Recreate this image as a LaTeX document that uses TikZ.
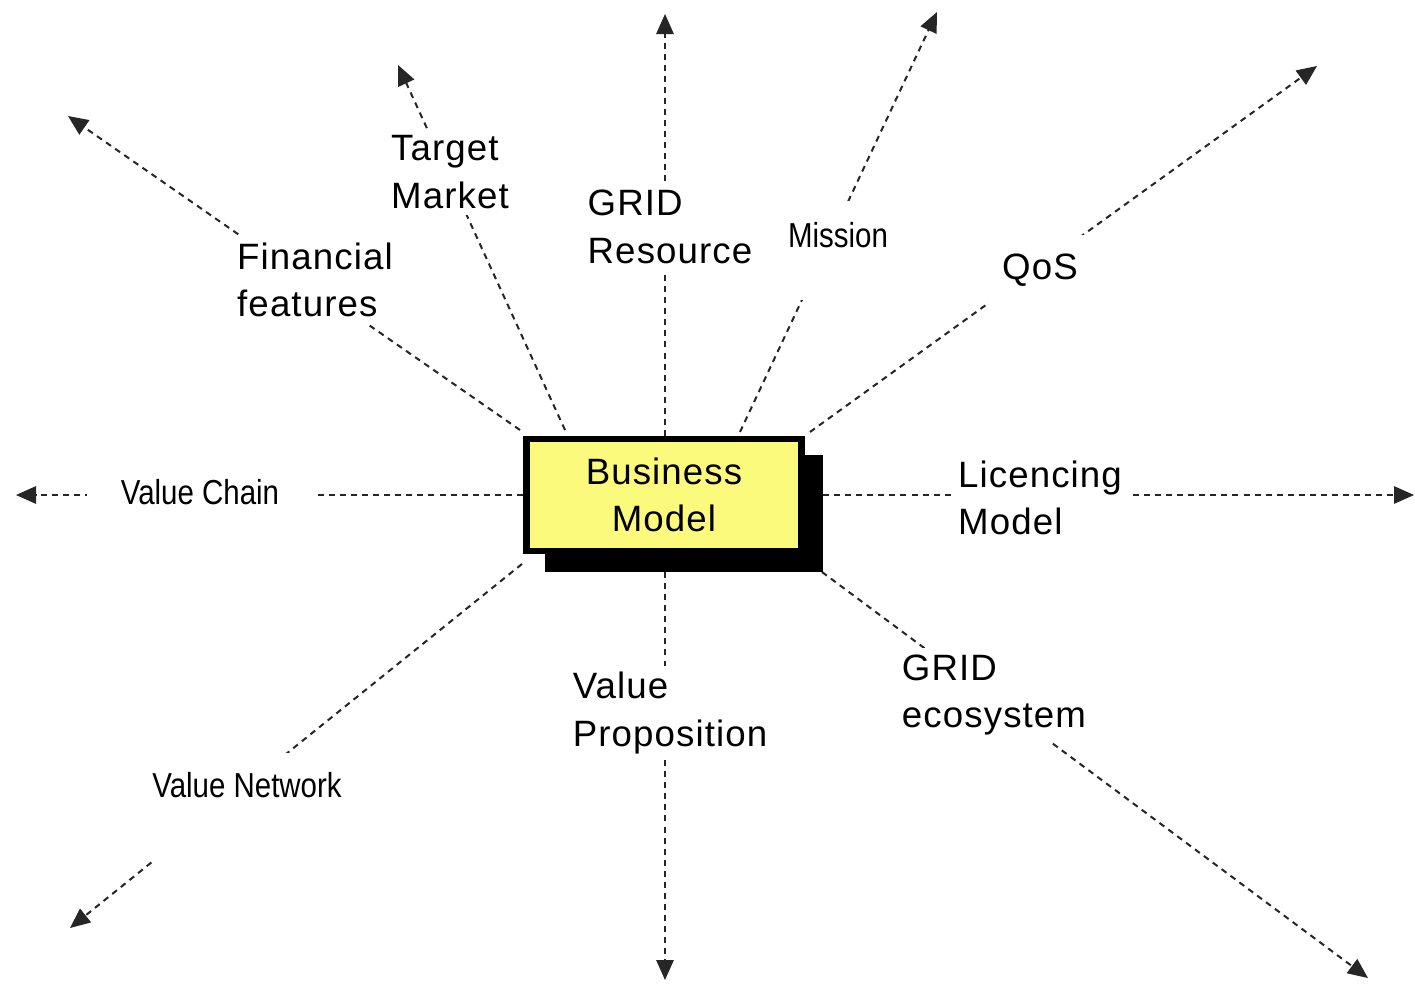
\documentclass[tikz,border=0pt]{standalone}
\usepackage{fontspec}
\setmainfont{Liberation Sans}[LetterSpace=3]
\newfontfamily\narrowfont{Liberation Sans}[FakeStretch=0.85]
\usetikzlibrary{arrows.meta}
\definecolor{boxyellow}{RGB}{252,250,125}
\begin{document}
\begin{tikzpicture}[x=0.75pt,y=-0.75pt,
  conn/.style={draw=black!85,line width=1.5pt,dash pattern=on 4.5pt off 3.8pt,
    -{Triangle[length=15pt,width=13pt]}},
  lab/.style={fill=white,inner sep=5pt,align=left,
    font=\fontsize{27.5pt}{35.5pt}\selectfont},
  nlab/.style={fill=white,inner sep=5pt,
    font=\narrowfont\fontsize{26pt}{32pt}\selectfont}]
\useasboundingbox (0,0) rectangle (1415,985);
\fill[white] (0,0) rectangle (1415,985);

% start points on the box
\coordinate (sL) at (523,495);
\coordinate (sR) at (823,495);
\coordinate (sU) at (665,436);
\coordinate (sD) at (665,572);
\coordinate (sFin) at (520,430);
\coordinate (sTar) at (565,430);
\coordinate (sMis) at (740,432);
\coordinate (sQoS) at (810,432);
\coordinate (sEco) at (822,572);
\coordinate (sVN) at (522,564);
% arrow ends
\coordinate (eL) at (16,495);
\coordinate (eR) at (1414,495);
\coordinate (eU) at (665,14);
\coordinate (eD) at (665,980);
\coordinate (eFin) at (68,116);
\coordinate (eTar) at (398,65);
\coordinate (eMis) at (937,12);
\coordinate (eQoS) at (1317,66);
\coordinate (eEco) at (1368,978);
\coordinate (eVN) at (70,928);

\foreach \n in {L,R,U,D,Fin,Tar,Mis,QoS,Eco,VN}
  \draw[conn] (s\n) -- (e\n);

% labels
\node[lab] (tar) at (450,172) {Target\\Market};
\node[lab] (res) at (670,227) {GRID\\Resource};
\node[lab] (fin) at (315,280) {Financial\\features};
\node[lab] (lic) at (1040,498) {Licencing\\Model};
\node[lab] (eco) at (994,695) {GRID\\ecosystem};
\node[lab] (vp)  at (670,713) {Value\\Proposition};
\node[lab,inner xsep=10pt,inner ysep=14pt] (qos) at (1040,270) {QoS};
\node[nlab,anchor=base,inner xsep=8pt,inner ysep=16pt,text depth=24pt] (mis) at (838,247) {Mission};
\node[nlab,inner xsep=25pt,inner ysep=8pt] (vc) at (200,492) {Value Chain};
\node[nlab,anchor=base,inner xsep=30pt,inner ysep=14pt,text depth=34pt] (vn) at (247,797) {Value Network};

% business model box
\node[fill=black,minimum width=278*0.75pt,minimum height=117*0.75pt,inner sep=0pt] (shadow) at (684,513.5) {};
\node[draw=black,line width=5pt,fill=boxyellow,minimum width=275*0.75pt,minimum height=112*0.75pt,
  align=center,inner sep=0pt,font=\fontsize{27.5pt}{35.5pt}\selectfont] (bm) at (664,495) {Business\\Model};
\end{tikzpicture}
\end{document}
